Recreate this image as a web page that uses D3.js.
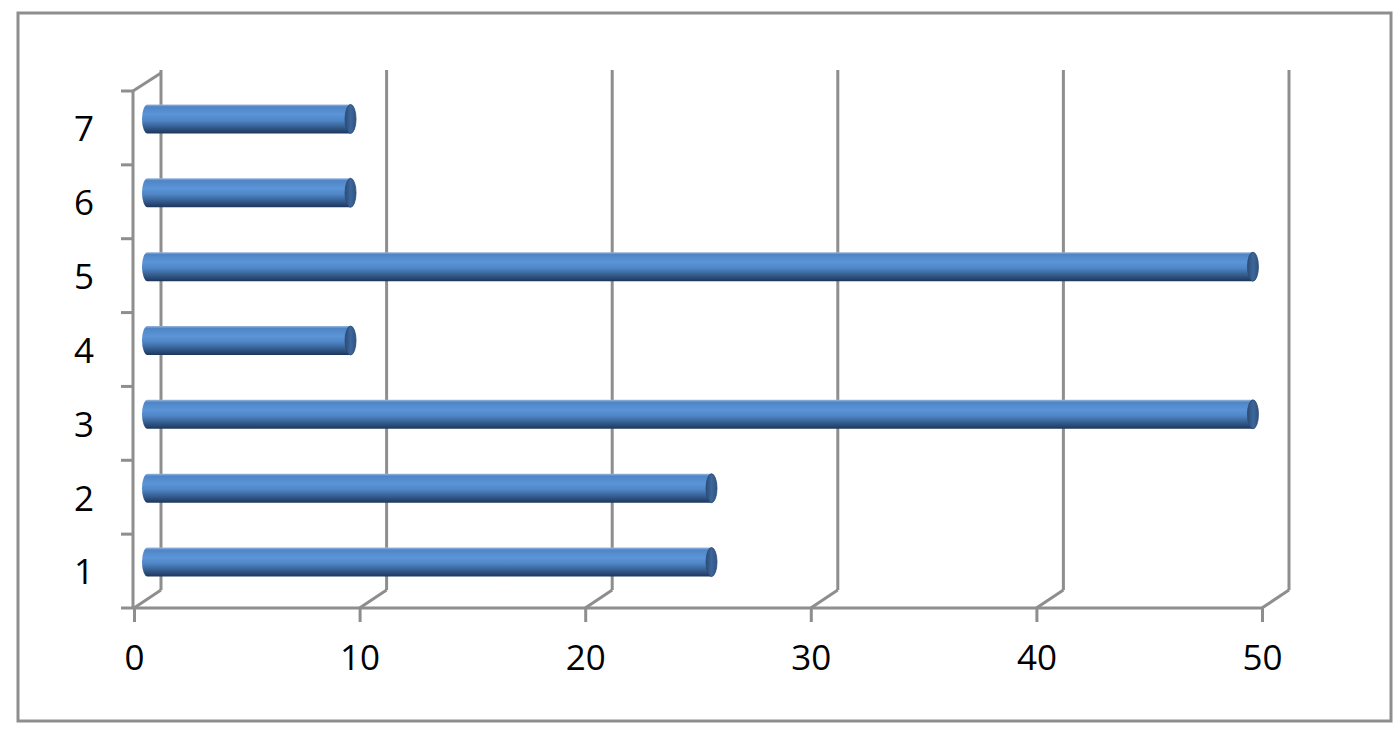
<!DOCTYPE html>
<html>
<head>
<meta charset="utf-8">
<script src="https://d3js.org/d3.v7.min.js"></script>
<style>
  html, body { margin: 0; padding: 0; background: #fff; }
  svg { display: block; }
  text { font-family: "Open Sans", "Liberation Sans", sans-serif; fill: #000; }
</style>
</head>
<body>
<svg id="chart" width="1398" height="735"></svg>
<script>
const categories = ["1", "2", "3", "4", "5", "6", "7"];
const values = [25, 25, 49, 9, 49, 9, 9];
const xTicks = [0, 10, 20, 30, 40, 50];

const W = 1398, H = 735;
const svg = d3.select("#chart");
const gridColor = "#8e8e8e";
const depthX = 27, depthY = -18;

// outer border
svg.append("rect")
  .attr("x", 18).attr("y", 13).attr("width", 1373).attr("height", 708)
  .attr("fill", "#fff").attr("stroke", gridColor).attr("stroke-width", 3);

const x = d3.scaleLinear().domain([0, 50]).range([134, 1262]);
const y = d3.scaleBand().domain(categories.slice().reverse()).range([91, 608]).paddingInner(0).paddingOuter(0);
const yTop = 91, yBot = 608;

const defs = svg.append("defs");
const grad = defs.append("linearGradient").attr("id", "cyl").attr("x1", 0).attr("y1", 0).attr("x2", 0).attr("y2", 1);
[[0, "#9bb8dc"], [0.08, "#4f85c6"], [0.35, "#5b95d8"], [0.55, "#4f86c6"], [0.8, "#335a8c"], [1, "#1d365a"]]
  .forEach(([o, c]) => grad.append("stop").attr("offset", o).attr("stop-color", c));
const capGrad = defs.append("linearGradient").attr("id", "cap").attr("x1", 0).attr("y1", 0).attr("x2", 1).attr("y2", 0);
[[0, "#2b4c78"], [0.5, "#3d669a"], [1, "#2f5482"]]
  .forEach(([o, c]) => capGrad.append("stop").attr("offset", o).attr("stop-color", c));

const g = svg.append("g");

// back wall gridlines
g.selectAll(".back").data(xTicks).join("line")
  .attr("x1", d => x(d) + depthX).attr("x2", d => x(d) + depthX)
  .attr("y1", yTop + depthY - 3).attr("y2", yBot + depthY)
  .attr("stroke", gridColor).attr("stroke-width", 3);

// floor diagonals
g.selectAll(".floor").data(xTicks).join("line")
  .attr("x1", d => x(d)).attr("y1", yBot)
  .attr("x2", d => x(d) + depthX).attr("y2", yBot + depthY)
  .attr("stroke", gridColor).attr("stroke-width", 3);

// front baseline
g.append("line").attr("x1", x(0) - 1).attr("x2", x(50) + 1).attr("y1", yBot).attr("y2", yBot)
  .attr("stroke", gridColor).attr("stroke-width", 3);

// left wall front vertical + top diagonal
g.append("line").attr("x1", x(0) - 1).attr("x2", x(0) - 1).attr("y1", yTop).attr("y2", yBot)
  .attr("stroke", gridColor).attr("stroke-width", 3);
g.append("line").attr("x1", x(0) - 1).attr("y1", yTop).attr("x2", x(0) + depthX).attr("y2", yTop + depthY)
  .attr("stroke", gridColor).attr("stroke-width", 3);

// y ticks at band boundaries
const yBounds = y.domain().map(d => y(d)).concat([yBot]);
g.selectAll(".ytick").data(yBounds).join("line")
  .attr("x1", x(0) - 13).attr("x2", x(0) - 1).attr("y1", d => d).attr("y2", d => d)
  .attr("stroke", gridColor).attr("stroke-width", 3);

// x axis (ticks + labels)
const xAxis = d3.axisBottom(x).tickValues(xTicks).tickSize(14).tickPadding(23).tickFormat(d3.format("d"));
const xa = svg.append("g").attr("transform", `translate(0,${yBot})`).call(xAxis);
xa.select(".domain").remove();
xa.selectAll(".tick line").attr("stroke", gridColor).attr("stroke-width", 3);
xa.selectAll(".tick text").style("font-size", "35px").attr("fill", "#000");

// y axis labels
const yAxis = d3.axisLeft(y).tickSize(0).tickPadding(40);
const ya = svg.append("g").attr("transform", `translate(${x(0)},0)`).call(yAxis);
ya.select(".domain").remove();
ya.selectAll(".tick text").style("font-size", "35px").attr("fill", "#000").attr("dy", "0.38em");

// bars (cylinders) at mid depth
const barH = 29;
const rx = 5.5;
const bars = svg.append("g").attr("transform", `translate(${depthX / 2},${depthY / 2})`);
const data = categories.map((c, i) => ({ c, v: values[i] }));
const bg = bars.selectAll(".bar").data(data).join("g")
  .attr("transform", d => `translate(0,${y(d.c) + y.bandwidth() / 2})`);
bg.append("path")
  .attr("d", d => {
    const x0 = x(0), x1 = x(d.v), h = barH / 2;
    return `M${x0},${-h} L${x1},${-h} L${x1},${h} L${x0},${h} A${rx},${h} 0 0 1 ${x0},${-h} Z`;
  })
  .attr("fill", "url(#cyl)");
bg.append("ellipse")
  .attr("cx", d => x(d.v)).attr("cy", 0).attr("rx", rx).attr("ry", barH / 2)
  .attr("fill", "url(#cap)").attr("stroke", "#2a4a74").attr("stroke-width", 0.8);
</script>
</body>
</html>
